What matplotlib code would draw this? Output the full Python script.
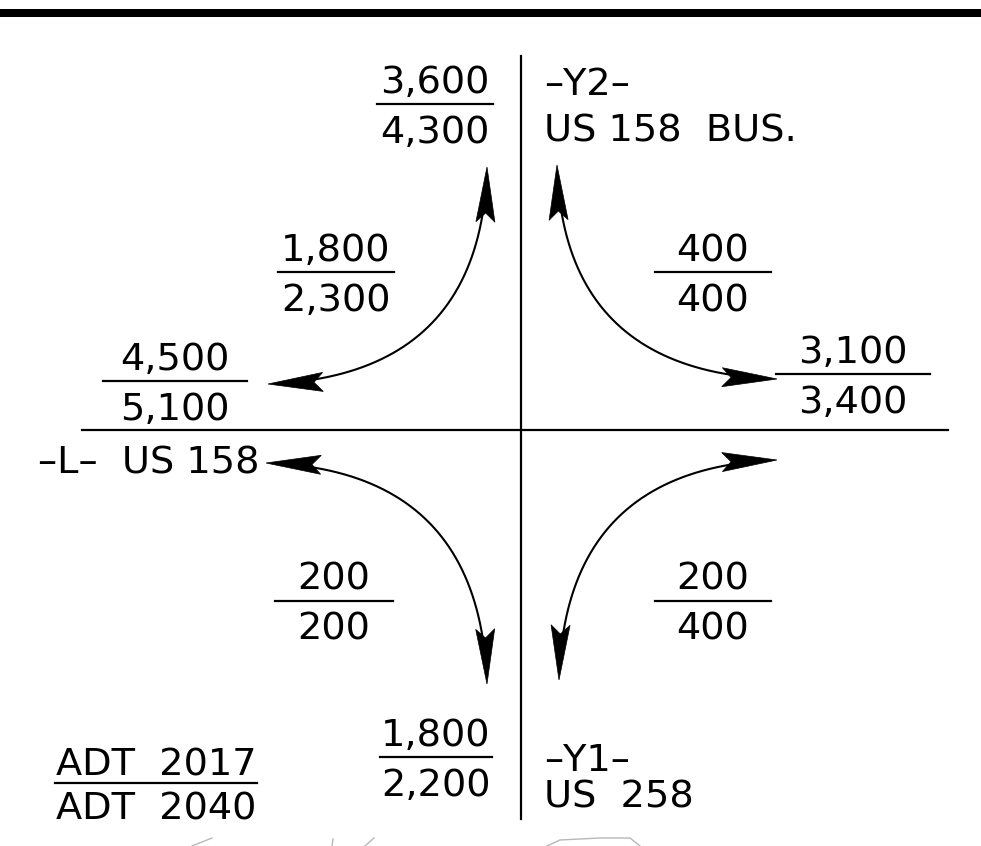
import numpy as np
import matplotlib.pyplot as plt
from matplotlib.patches import Polygon

# ADT volumes (2017 over 2040) for each movement
adt_2017 = [3600, 1800, 4500, 400, 3100, 200, 200, 1800]
adt_2040 = [4300, 2300, 5100, 400, 3400, 200, 400, 2200]

# layout in pixels: centre x, bar y, half width of the bar
frac_pos = [(435, 104, 58), (336, 272, 58), (175, 381, 72), (713, 272, 58),
            (853, 374, 77), (334, 601, 59), (713, 601, 58), (436, 757, 56)]

# turning arcs: tip A, control point, tip B
arcs = [((487, 167), (481, 376), (268, 384)),
        ((557, 165), (563, 372), (777, 379)),
        ((266, 463), (480, 470), (487, 684)),
        ((559, 680), (565, 468), (777, 460))]

fig = plt.figure(figsize=(9.81, 8.46), dpi=100)
ax = fig.add_axes([0, 0, 1, 1])
ax.set_xlim(0, 981)
ax.set_ylim(846, 0)
ax.axis('off')

fs = 27.5
font = 'DejaVu Sans'

# top border band
ax.fill_between([0, 981], 9, 17, color='black', lw=0)

# road centre lines
ax.plot([521, 521], [56, 819], color='black', lw=1.6)
ax.plot([82, 948], [430, 430], color='black', lw=1.6)

# fractions
for (cx, ly, hw), a, b in zip(frac_pos, adt_2017, adt_2040):
    ax.plot([cx - hw, cx + hw], [ly, ly], color='black', lw=1.6)
    ax.text(cx, ly - 11, f'{a:,}', ha='center', va='baseline', fontsize=fs, family=font)
    ax.text(cx, ly + 39, f'{b:,}', ha='center', va='baseline', fontsize=fs, family=font)

# legend fraction
ax.plot([55, 257], [783, 783], color='black', lw=1.6)
ax.text(156, 775, 'ADT  2017', ha='center', va='baseline', fontsize=fs, family=font)
ax.text(156, 820, 'ADT  2040', ha='center', va='baseline', fontsize=fs, family=font)

# road names
ax.text(38, 473, '\u2013L\u2013  US 158', ha='left', va='baseline', fontsize=fs, family=font)
ax.text(544, 95, '\u2013Y2\u2013', ha='left', va='baseline', fontsize=fs, family=font)
ax.text(544, 142, 'US 158  BUS.', ha='left', va='baseline', fontsize=fs, family=font)
ax.text(544, 771, '\u2013Y1\u2013', ha='left', va='baseline', fontsize=fs, family=font)
ax.text(544, 808, 'US  258', ha='left', va='baseline', fontsize=fs, family=font)


def head(tip, direc, L=55, w=9.5, n=9):
    d = np.array(direc, float)
    d /= np.hypot(*d)
    p = np.array([-d[1], d[0]])
    t = np.array(tip, float)
    pts = [t, t - L * d + w * p, t - (L - n) * d, t - L * d - w * p]
    ax.add_patch(Polygon(pts, closed=True, facecolor='black', edgecolor='black', lw=0.5, zorder=3))


for p0, c, p1 in arcs:
    p0, c, p1 = np.array(p0, float), np.array(c, float), np.array(p1, float)
    t = np.linspace(0, 1, 300)[:, None]
    pts = (1 - t) ** 2 * p0 + 2 * (1 - t) * t * c + t ** 2 * p1
    keep = (np.hypot(*(pts - p0).T) > 40) & (np.hypot(*(pts - p1).T) > 40)
    ax.plot(pts[keep, 0], pts[keep, 1], color='black', lw=1.5, zorder=2)
    head(p0, p0 - c)
    head(p1, p1 - c)

# faint scan marks along the bottom edge
gray = '#b8b8b8'
ax.plot([192, 212], [846, 838], color=gray, lw=1)
ax.plot([332, 333], [846, 839], color=gray, lw=1)
ax.plot([365, 374], [846, 838], color=gray, lw=1)
ax.plot([547, 560, 600, 630, 640], [846, 840, 838, 838, 846], color=gray, lw=1)

fig.savefig('out.png', dpi=100)
